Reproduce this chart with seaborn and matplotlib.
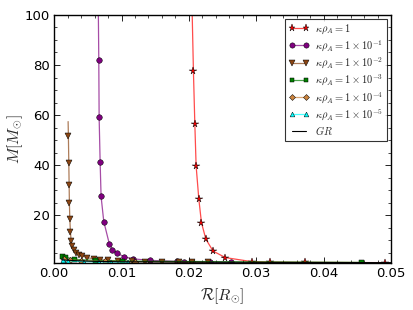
import numpy as np
import pandas as pd
import matplotlib
matplotlib.use("Agg")
import matplotlib.pyplot as plt
import seaborn as sns
from matplotlib.ticker import MultipleLocator
from matplotlib.colors import to_rgba

# ---- data ----
r_k0 = [0.02045, 0.02067, 0.02088, 0.02107, 0.02147, 0.02186, 0.02251, 0.02359, 0.02542,
        0.02933, 0.0321, 0.0372, 0.0491]
m_k0 = [105, 77.6, 56.4, 39.7, 26.5, 17.1, 10.5, 5.7, 3.1, 1.5, 1.3, 1.2, 1.1]

r_k1 = [0.00655, 0.00663, 0.00668, 0.00683, 0.00697, 0.00737, 0.00820, 0.00865, 0.00935,
        0.01039, 0.01177, 0.0142, 0.0183, 0.0193, 0.0204, 0.0231, 0.0263]
m_k1 = [105, 81.9, 59.2, 41.2, 27.5, 17.5, 8.5, 6.3, 4.9, 3.4, 2.6, 2.0, 1.6, 1.5, 1.4, 1.3, 1.2]

r_k2 = [0.00208, 0.00212, 0.00218, 0.00223, 0.00227, 0.00233, 0.00242, 0.00252, 0.00267,
        0.00292, 0.00326, 0.00366, 0.00415, 0.00494, 0.00593, 0.0068, 0.0080, 0.0095,
        0.0115, 0.0135, 0.0160, 0.0185, 0.0205, 0.0228]
m_k2 = [57.4, 51.8, 41.0, 32.1, 24.8, 18.6, 13.5, 9.9, 7.9, 6.2, 5.1, 4.3, 3.7, 3.1, 2.6,
        2.3, 2.0, 1.8, 1.6, 1.5, 1.4, 1.35, 1.3, 1.25]

r_k3 = [0.00123, 0.00168, 0.0030, 0.0060, 0.0100, 0.0455]
m_k3 = [3.9, 3.3, 2.4, 2.0, 1.7, 1.2]

r_k4 = [0.0014, 0.0024, 0.0040, 0.0075, 0.0120]
m_k4 = [2.6, 2.2, 1.9, 1.6, 1.4]

r_k5 = [0.00135, 0.0021, 0.0045, 0.0066, 0.0085, 0.0110]
m_k5 = [2.0, 1.8, 1.5, 1.4, 1.3, 1.25]

r_gr = [0.0012, 0.0030, 0.0060, 0.0100, 0.0200, 0.0300, 0.0400, 0.0500]
m_gr = [2.2, 1.9, 1.6, 1.45, 1.3, 1.2, 1.15, 1.1]

labels = [r"$\kappa\rho_A = 1$",
          r"$\kappa\rho_A = 1\times 10^{-1}$",
          r"$\kappa\rho_A = 1\times 10^{-2}$",
          r"$\kappa\rho_A = 1\times 10^{-3}$",
          r"$\kappa\rho_A = 1\times 10^{-4}$",
          r"$\kappa\rho_A = 1\times 10^{-5}$"]
colors = ["red", "purple", "#8B4513", "green", "#CD853F", "cyan"]
markers = ["*", "o", "v", "s", "D", "^"]
msizes = [5.5, 4.0, 4.0, 3.6, 3.2, 3.6]
skip_first = [True, True, True, False, False, False]

series = [(r_k0, m_k0), (r_k1, m_k1), (r_k2, m_k2), (r_k3, m_k3), (r_k4, m_k4), (r_k5, m_k5)]

sns.set_style("ticks")
plt.rcParams.update({
    "font.family": ["DejaVu Sans"],
    "mathtext.fontset": "cm",
    "xtick.direction": "in", "ytick.direction": "in",
    "xtick.top": True, "ytick.right": True,
    "xtick.minor.visible": True, "ytick.minor.visible": True,
    "axes.edgecolor": "black", "axes.linewidth": 1.0,
    "xtick.color": "black", "ytick.color": "black",
})

fig = plt.figure(figsize=(4.13, 3.10), dpi=100)
ax = fig.add_axes([0.131, 0.152, 0.816, 0.800])

for (x, y), lab, c, mk, ms, sk in zip(series, labels, colors, markers, msizes, skip_first):
    df = pd.DataFrame({"R": x, "M": y})
    sns.lineplot(data=df, x="R", y="M", ax=ax, color=c, marker=mk, markersize=ms,
                 markeredgecolor="black", markeredgewidth=0.35, linewidth=0.9,
                 label=lab, sort=False, markevery=(1 if sk else 0, 1))
    ln = ax.lines[-1]
    ln.set_color(to_rgba(c, 0.7))
    ln.set_markerfacecolor(c)
    ln.set_markeredgecolor("black")

dfgr = pd.DataFrame({"R": r_gr, "M": m_gr})
sns.lineplot(data=dfgr, x="R", y="M", ax=ax, color="black", linewidth=0.8, label=r"$GR$", sort=False)

ax.set_xlim(0, 0.05)
ax.set_ylim(1, 100)
ax.xaxis.set_major_locator(MultipleLocator(0.01))
ax.xaxis.set_minor_locator(MultipleLocator(0.002))
ax.yaxis.set_major_locator(MultipleLocator(20))
ax.yaxis.set_minor_locator(MultipleLocator(5))
ax.xaxis.set_major_formatter(matplotlib.ticker.FormatStrFormatter("%.2f"))
ax.tick_params(which="major", length=4, width=0.6, labelsize=9.5, pad=3)
ax.tick_params(which="minor", length=2, width=0.5)
ax.set_xlabel(r"$\mathcal{R}[R_{\odot}]$", fontsize=11.5)
ax.set_ylabel(r"$M[M_{\odot}]$", fontsize=11.5)
ax.yaxis.set_label_coords(-0.085, 0.5)
ax.xaxis.set_label_coords(0.5, -0.095)

leg = ax.legend(loc="upper right", numpoints=2, fontsize=7.5, fancybox=False,
                frameon=True, handlelength=1.9, borderaxespad=0.35, labelspacing=0.22,
                markerscale=0.95, borderpad=0.4, handletextpad=0.6)
leg.get_frame().set_edgecolor("black")
leg.get_frame().set_linewidth(0.8)

fig.savefig("out.png", dpi=100)
